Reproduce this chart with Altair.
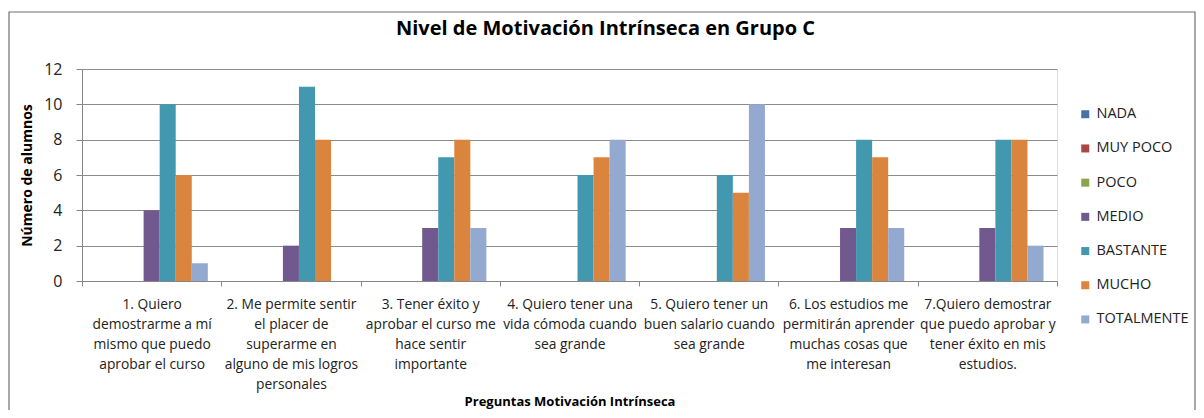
import altair as alt
import pandas as pd

categories = [
    "1. Quiero\ndemostrarme a mí\nmismo que puedo\naprobar el curso",
    "2. Me permite sentir\nel placer de\nsuperarme en\nalguno de mis logros\npersonales",
    "3. Tener éxito y\naprobar el curso me\nhace sentir\nimportante",
    "4. Quiero tener una\nvida cómoda cuando\nsea grande",
    "5. Quiero tener un\nbuen salario cuando\nsea grande",
    "6. Los estudios me\npermitirán aprender\nmuchas cosas que\nme interesan",
    "7.Quiero demostrar\nque puedo aprobar y\ntener éxito en mis\nestudios.",
]
series = ["NADA", "MUY POCO", "POCO", "MEDIO", "BASTANTE", "MUCHO", "TOTALMENTE"]
colors = ["#4572A7", "#AA4643", "#89A54E", "#71588F", "#4198AF", "#DB843D", "#93A9CF"]

nada = [0, 0, 0, 0, 0, 0, 0]
muy_poco = [0, 0, 0, 0, 0, 0, 0]
poco = [0, 0, 0, 0, 0, 0, 0]
medio = [4, 2, 3, 0, 0, 3, 3]
bastante = [10, 11, 7, 6, 6, 8, 8]
mucho = [6, 8, 8, 7, 5, 7, 8]
totalmente = [1, 0, 3, 8, 10, 3, 2]

values = [nada, muy_poco, poco, medio, bastante, mucho, totalmente]
rows = []
for s, vals in zip(series, values):
    for c, v in zip(categories, vals):
        rows.append({"Pregunta": c, "Nivel": s, "Alumnos": v})
df = pd.DataFrame(rows)

FONT = "Open Sans"

bars = alt.Chart(df).mark_bar().encode(
    x=alt.X("Pregunta:N", sort=categories,
            scale=alt.Scale(paddingInner=0, paddingOuter=0),
            axis=alt.Axis(title="Preguntas Motivación Intrínseca", labelAngle=0,
                          labelExpr="isValid(datum.value) ? split(datum.value, '\\n') : ''",
                          labelFont=FONT, labelFontSize=13.8, labelLineHeight=20,
                          labelColor="#222222", labelPadding=11,
                          labelBaseline="top",
                          tickBand="extent", tickColor="#868686", tickSize=5,
                          domainColor="#868686",
                          titleFont=FONT, titleFontSize=13, titleFontWeight="bold",
                          titleColor="#000000", titlePadding=5)),
    xOffset=alt.XOffset("Nivel:N", sort=series,
                        scale=alt.Scale(paddingInner=0, paddingOuter=0.84)),
    y=alt.Y("Alumnos:Q", scale=alt.Scale(domain=[0, 12]),
            axis=alt.Axis(title="Número de alumnos", values=[0, 2, 4, 6, 8, 10, 12],
                          labelFont=FONT, labelFontSize=16, labelColor="#222222",
                          labelPadding=14, tickColor="#868686", tickSize=6,
                          domainColor="#868686", gridColor="#8c8c8c", gridWidth=1,
                          titleFont=FONT, titleFontSize=14, titleFontWeight="bold",
                          titleColor="#000000", titlePadding=9)),
    color=alt.Color("Nivel:N", sort=series,
                    scale=alt.Scale(domain=series, range=colors),
                    legend=alt.Legend(title=None, orient="none", legendX=996, legendY=38,
                                      symbolType="square", symbolSize=64,
                                      symbolStrokeWidth=0,
                                      labelFont=FONT, labelFontSize=14.5, labelColor="#222222",
                                      rowPadding=19.2, labelOffset=4)),
)

border = alt.Chart(pd.DataFrame({"a": [0]})).mark_rect(
    fill="white", fillOpacity=0, stroke="#6f6f6f", strokeWidth=1.2
).encode(x=alt.value(-73), x2=alt.value(1113), y=alt.value(-57), y2=alt.value(400))

chart = alt.layer(border, bars).properties(
    width=975, height=212,
    padding={"left": 74, "top": 61, "right": 139, "bottom": 129},
    autosize=alt.AutoSizeParams(type="none"),
    title=alt.TitleParams("Nivel de Motivación Intrínseca en Grupo C",
                          font=FONT, fontSize=20, fontWeight="bold", color="#000000",
                          anchor="middle", dx=36, offset=-28),
).configure_view(stroke=None).configure(background="white")

chart.save("out.html", embed_options={"renderer": "svg", "actions": False})
